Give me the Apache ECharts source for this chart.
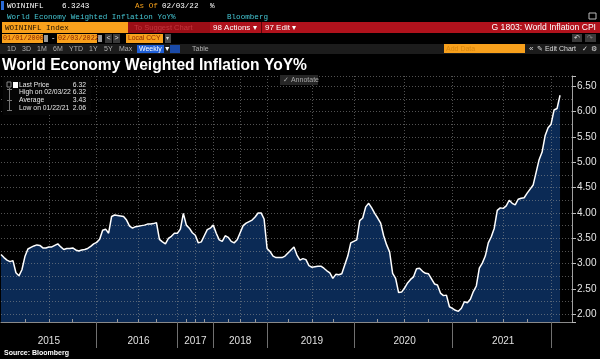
<!DOCTYPE html>
<html><head><meta charset="utf-8">
<script src="https://cdn.jsdelivr.net/npm/echarts@6/dist/echarts.min.js"></script>
<style>html,body{margin:0;padding:0;background:#000;}#c{width:600px;height:359px;}</style>
</head><body><div id="c"></div>
<script>
// ---- data ----
const years = ['2015','2016','2017','2018','2019','2020','2021','2022'];
const yearStartIdx = [0, 32, 59, 71, 89, 118, 151, 184];
const values = [
3.18,3.12,3.07,3.04,3.06,2.82,2.76,2.88,3.14,3.29,
3.32,3.35,3.37,3.36,3.31,3.31,3.33,3.33,3.36,3.39,
3.33,3.28,3.30,3.30,3.31,3.27,3.25,3.27,3.28,3.30,
3.34,3.39,3.42,3.48,3.66,3.68,3.60,3.93,3.96,3.95,
3.94,3.93,3.86,3.74,3.70,3.73,3.74,3.75,3.76,3.78,
3.78,3.79,3.81,3.48,3.43,3.39,3.50,3.54,3.60,3.60,
3.68,3.99,3.76,3.70,3.61,3.56,3.41,3.43,3.55,3.67,
3.70,3.76,3.60,3.47,3.44,3.55,3.52,3.44,3.41,3.47,
3.61,3.75,3.80,3.83,3.86,3.92,4.00,4.00,3.88,3.30,
3.24,3.15,3.12,3.12,3.12,3.15,3.21,3.27,3.33,3.17,
3.07,3.10,3.08,2.96,2.93,2.94,2.95,2.95,2.91,2.86,
2.82,2.71,2.79,2.78,2.80,2.98,3.15,3.41,3.44,3.47,
3.85,3.90,4.12,4.19,4.10,3.99,3.90,3.80,3.55,3.37,
3.23,2.81,2.71,2.43,2.44,2.52,2.62,2.69,2.74,2.90,
2.91,2.85,2.81,2.80,2.70,2.60,2.58,2.42,2.37,2.38,
2.15,2.12,2.08,2.06,2.12,2.25,2.23,2.30,2.45,2.56,
2.91,3.01,3.15,3.41,3.53,3.70,4.05,4.10,4.09,4.14,
4.25,4.19,4.16,4.27,4.29,4.30,4.39,4.47,4.55,4.80,
5.05,5.20,5.52,5.68,5.75,6.03,6.06,6.32
];
const padCount = 4;
const legendRows = [['Last Price','6.32'],['High on 02/03/22','6.32'],['Average','3.43'],['Low on 01/22/21','2.06']];

// ---- build axis helpers ----
const total = values.length + padCount;
const cats = [];
for (let i = 0; i < total; i++) {
  let k = 0;
  for (let j = 0; j < yearStartIdx.length; j++) if (yearStartIdx[j] <= i) k = j;
  cats.push(years[k] + '|' + i);
}
const seriesData = values.concat(new Array(padCount).fill(null));
const bigTicks = new Set(yearStartIdx.slice(1));
const labelIdx = new Set();
const quarterIdx = new Set();
const vGridIdx = new Set();
for (let j = 0; j < yearStartIdx.length - 1; j++) {
  const s = yearStartIdx[j], e = yearStartIdx[j + 1];
  labelIdx.add(Math.round((s + e) / 2));
  for (let q = 1; q < 4; q++) quarterIdx.add(Math.round(s + q * (e - s) / 4));
  vGridIdx.add(Math.round(s + (e - s) / 2));
  vGridIdx.add(e);
}

const mono = '"Liberation Mono","DejaVu Sans Mono",monospace';
const sans = '"Liberation Sans",Arial,sans-serif';
const G = [];
function R(x, y, w, h, fill, z) { G.push({type:'rect', shape:{x, y, width:w, height:h}, style:{fill}, z: z || 100}); }
function T(x, y, text, fill, font, align) {
  G.push({type:'text', x, y, style:{text, fill, font, align: align || 'left', verticalAlign:'middle'}, z: 110});
}
function L(x1, y1, x2, y2, stroke) { G.push({type:'line', shape:{x1, y1, x2, y2}, style:{stroke, lineWidth:1}, z:110}); }

// row 1
R(1, 1, 3, 9, '#2a6bd8');
T(7, 6, 'WOININFL', '#ffffff', '7.6px ' + mono);
T(62, 6, '6.3243', '#ffffff', '7.6px ' + mono);
T(135, 6, 'As Of', '#f7a11a', '7.6px ' + mono);
T(162, 6, '02/03/22', '#ffffff', '7.6px ' + mono);
T(210, 6, '%', '#ffffff', '7.6px ' + mono);
// row 2
T(7, 17, 'World Economy Weighted Inflation YoY%', '#45c6d3', '7.6px ' + mono);
T(227, 17, 'Bloomberg', '#45c6d3', '7.6px ' + mono);
G.push({type:'rect', shape:{x:589, y:13, width:7, height:6}, style:{fill:'none', stroke:'#bbb', lineWidth:1}, z:110});
// row 3
R(2, 22, 126, 11, '#f8a01c');
T(5, 28, 'WOININFL Index', '#1a0d00', '7.6px ' + mono);
R(128, 22, 82, 11, '#9b0e16');
R(210, 22, 390, 11, '#b0121c');
T(134, 28, 'To Suggest Chart', '#c4353d', '7.6px ' + sans);
T(213, 28, '98 Actions \u25be', '#ffffff', '8px ' + sans);
L(261.5, 22, 261.5, 33, '#5a0508');
T(265, 28, '97 Edit \u25be', '#ffffff', '8px ' + sans);
T(596, 28, 'G 1803: World Inflation CPI', '#ffffff', '8.6px ' + sans, 'right');
// row 4
R(2, 34, 41, 9, '#f8a01c'); T(3, 38.5, '01/01/2000', '#8b2500', '6.8px ' + mono);
R(44, 35, 4, 7, '#9a9a9a');
T(51, 38.5, '-', '#ffffff', '7.4px ' + mono);
R(57, 34, 40, 9, '#f8a01c'); T(58, 38.5, '02/03/2022', '#8b2500', '6.8px ' + mono);
R(98, 35, 4, 7, '#9a9a9a');
R(105, 34, 7, 9, '#3a3a3a'); T(106.5, 38.5, '<', '#ddd', '7px ' + sans);
R(113, 34, 7, 9, '#3a3a3a'); T(114.5, 38.5, '>', '#ddd', '7px ' + sans);
R(126, 34, 37, 9, '#f8a01c'); T(128, 38.5, 'Local CCY', '#8b2500', '6.8px ' + sans);
R(165, 34, 6, 9, '#4a4a4a'); T(166, 38.5, '\u25be', '#ddd', '6px ' + sans);
R(572, 34, 10, 8, '#3a3a3a'); T(574, 38, '\u21b6', '#ddd', '7px ' + sans);
R(585, 34, 11, 8, '#3a3a3a'); T(587, 38, '\u21b7', '#888', '7px ' + sans);
// row 5
R(0, 44, 600, 10, '#1c1c1c');
[['1D',7],['3D',22],['1M',37],['6M',53],['YTD',69],['1Y',89],['5Y',104],['Max',119],['Table',192]].forEach(a => T(a[1], 49, a[0], '#b0b0b0', '7px ' + sans));
R(137, 45, 27, 8, '#1f5fd6'); T(139, 49, 'Weekly \u25bc', '#ffffff', '7px ' + sans);
R(170, 45, 10, 8, '#1a4aa8');
R(444, 44, 81, 9, '#f7a01c'); T(446, 49, 'Add Data', '#d8860e', '7px ' + sans);
T(529, 49, '\u00ab', '#dddddd', '8px ' + sans);
T(537, 49, '\u270e Edit Chart', '#dddddd', '7px ' + sans);
T(582, 49, '\u2713', '#dddddd', '7px ' + sans);
T(591, 49, '\u2699', '#dddddd', '7px ' + sans);
// title
T(2, 66, 'World Economy Weighted Inflation YoY%', '#ffffff', 'bold 15.6px ' + sans);
// annotate button
R(280, 75, 38, 10, '#262626');
T(283, 80, '\u2713 Annotate', '#aaaaaa', '7px ' + sans);
// legend box
R(3, 77, 88, 38, '#050505');
G.push({type:'rect', shape:{x:7, y:82, width:4, height:5}, style:{fill:'none', stroke:'#888', lineWidth:1}, z:110});
R(13, 82, 5, 6, '#ffffff', 111);
L(9.5, 88, 9.5, 110, '#777');
L(7, 89.5, 12, 89.5, '#777');
L(7, 100.5, 12, 100.5, '#777');
L(7, 110.5, 12, 110.5, '#777');
legendRows.forEach((r, k) => {
  const y = [85, 92.5, 100, 108][k];
  T(19, y, r[0], '#e8e8e8', '6.8px ' + sans);
  T(86, y, r[1], '#e8e8e8', '6.8px ' + sans, 'right');
});
// source
T(4, 353, 'Source: Bloomberg', '#ffffff', 'bold 7px ' + sans);

const dotted = {type:[1, 2], color:'rgba(150,150,150,0.55)', width:1};
const gridBox = {left:1, right:28, top:76, bottom:37};

const option = {
  backgroundColor:'#000',
  animation:false,
  grid:[Object.assign({}, gridBox), Object.assign({}, gridBox)],
  xAxis:[{
    type:'category', gridIndex:0, data:cats, boundaryGap:false,
    axisLine:{lineStyle:{color:'#8a8a8a'}},
    axisTick:{show:true, interval:(i) => bigTicks.has(i), length:26, lineStyle:{color:'#707070'}},
    axisLabel:{interval:(i) => labelIdx.has(i), formatter:(v) => v.split('|')[0], color:'#e0e0e0', fontSize:10, fontFamily:sans, margin:14},
    splitLine:{show:true, interval:(i) => vGridIdx.has(i), lineStyle:dotted}
  },{
    type:'category', gridIndex:1, data:cats, boundaryGap:false,
    axisLine:{show:false},
    axisTick:{show:true, inside:true, interval:(i) => quarterIdx.has(i), length:3, lineStyle:{color:'#9a9a9a'}},
    axisLabel:{show:false}, splitLine:{show:false}
  }],
  yAxis:[{
    type:'value', gridIndex:0, position:'right', min:1.85, max:6.70, splitNumber:10, scale:true,
    axisLine:{show:true, lineStyle:{color:'#a0a0a0'}},
    axisTick:{show:true, length:4, lineStyle:{color:'#bbbbbb'}},
    axisLabel:{color:'#e6e6e6', fontSize:10, fontFamily:sans, margin:5,
      formatter:(v) => Math.abs(v * 2 - Math.round(v * 2)) < 1e-6 ? v.toFixed(2) : ''},
    splitLine:{show:true, lineStyle:dotted},
    minorTick:{show:false, splitNumber:2},
    minorSplitLine:{show:true, lineStyle:dotted}
  },{
    type:'value', gridIndex:1, min:1.85, max:6.70, show:false
  }],
  series:[{
    type:'line', xAxisIndex:0, yAxisIndex:0, data:seriesData, showSymbol:false, z:-1,
    lineStyle:{width:0}, areaStyle:{color:'#0b2a55', opacity:1}, silent:true
  },{
    type:'line', xAxisIndex:0, yAxisIndex:0, data:seriesData, showSymbol:false, z:3,
    lineStyle:{color:'#ffffff', width:1.5},
    markLine:{symbol:'none', silent:true, lineStyle:{opacity:0},
      data:[{yAxis: values[values.length - 1]}],
      label:{position:'end', distance:4, formatter:() => values[values.length - 1].toFixed(2),
        color:'#ffffff', fontSize:10, fontFamily:sans, backgroundColor:'#000', borderColor:'#dddddd', borderWidth:1, padding:[1,2,0,2]}}
  }],
  graphic: G
};
echarts.init(document.getElementById('c')).setOption(option);
</script>
</body></html>
